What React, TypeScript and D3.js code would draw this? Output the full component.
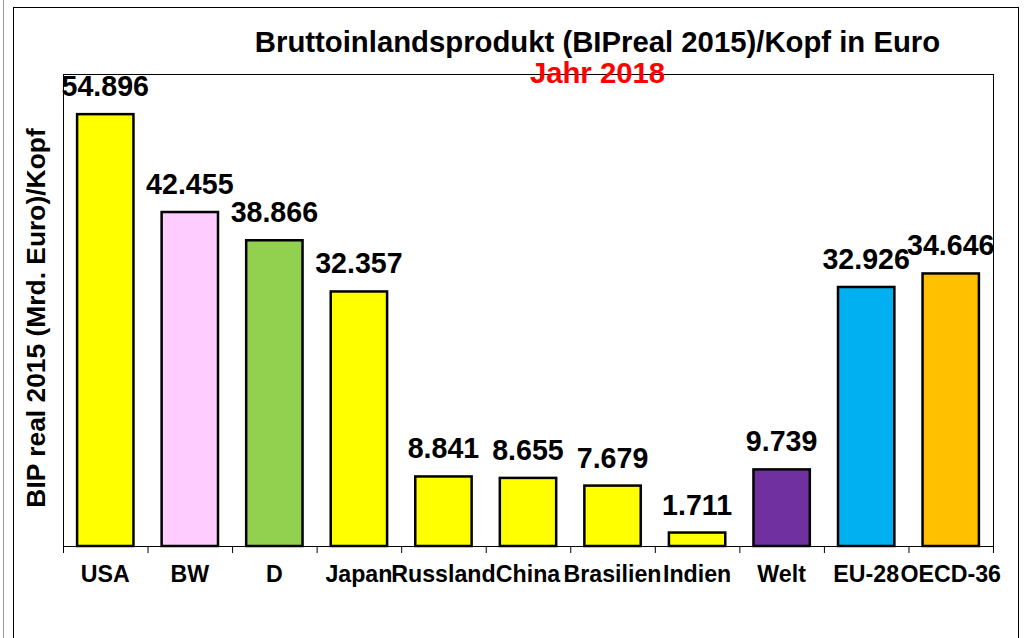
import * as d3 from 'd3';
import React from 'react';

// BIP real 2015 pro Kopf in Euro, Jahr 2018
const categories = ['USA', 'BW', 'D', 'Japan', 'Russland', 'China', 'Brasilien', 'Indien', 'Welt', 'EU-28', 'OECD-36'];
const values = [54896, 42455, 38866, 32357, 8841, 8655, 7679, 1711, 9739, 32926, 34646];
const barColors = ['#ffff00', '#ffccff', '#92d050', '#ffff00', '#ffff00', '#ffff00', '#ffff00', '#ffff00', '#7030a0', '#00b0f0', '#ffc000'];
const yDomain = [0, 60000];

const W = 1026;
const H = 638;
const plot = { left: 63, right: 993, top: 74, bottom: 546 };
const font = '"Liberation Sans", Arial, sans-serif';

const de = d3.formatLocale({ decimal: ',', thousands: '.', grouping: [3], currency: ['', ' €'] });
const fmt = de.format(',d');

const App = () => {
  const band = d3.scaleBand<string>()
    .domain(categories)
    .range([plot.left, plot.right])
    .padding(0);

  const x = d3.scaleBand<string>()
    .domain(categories)
    .range([plot.left, plot.right])
    .paddingInner(1 / 3)
    .paddingOuter(1 / 6);

  const y = d3.scaleLinear()
    .domain(yDomain)
    .range([plot.bottom, plot.top]);

  const tickXs = categories.map(c => band(c) as number).concat([plot.right]);

  return (
    <svg width={W} height={H} style={{ position: 'absolute', left: 0, top: 0 }} fontFamily={font} fontWeight="bold">
      <rect x={0} y={0} width={W} height={H} fill="#fff" />
      <line x1={3.5} x2={3.5} y1={0} y2={H} stroke="#999" />
      <rect x={13.5} y={7.5} width={1005} height={H} fill="none" stroke="#000" />

      <text x={597.5} y={52} textAnchor="middle" fontSize={29.3} fill="#000">
        Bruttoinlandsprodukt (BIPreal 2015)/Kopf in Euro
      </text>

      {/* plot area frame */}
      <rect x={plot.left + 0.5} y={plot.top + 0.5} width={plot.right - plot.left} height={plot.bottom - plot.top} fill="none" stroke="#000" />

      <text x={597.5} y={83} textAnchor="middle" fontSize={29.3} fill="#ff0000">Jahr 2018</text>

      <text
        transform={`translate(45,318) rotate(-90)`}
        textAnchor="middle"
        fontSize={26.4}
        fill="#000"
      >
        BIP real 2015 (Mrd. Euro)/Kopf
      </text>

      {categories.map((c, i) => (
        <rect
          key={c}
          x={x(c)}
          y={y(values[i])}
          width={x.bandwidth()}
          height={y(0) - y(values[i])}
          fill={barColors[i]}
          stroke="#000"
          strokeWidth={2.5}
        />
      ))}

      {/* x axis */}
      <line x1={plot.left} x2={plot.right + 0.5} y1={plot.bottom + 0.5} y2={plot.bottom + 0.5} stroke="#000" />
      {tickXs.map((t, i) => (
        <line key={i} x1={t + 0.5} x2={t + 0.5} y1={plot.bottom} y2={plot.bottom + 7} stroke="#000" />
      ))}

      {categories.map((c, i) => (
        <text
          key={c}
          x={(x(c) as number) + x.bandwidth() / 2}
          y={y(values[i]) - 18}
          textAnchor="middle"
          fontSize={28.6}
          fill="#000"
        >
          {fmt(values[i])}
        </text>
      ))}

      {categories.map(c => (
        <text
          key={c}
          x={(band(c) as number) + band.bandwidth() / 2}
          y={582}
          textAnchor="middle"
          fontSize={23.2}
          fill="#000"
        >
          {c}
        </text>
      ))}
    </svg>
  );
};

export default App;
